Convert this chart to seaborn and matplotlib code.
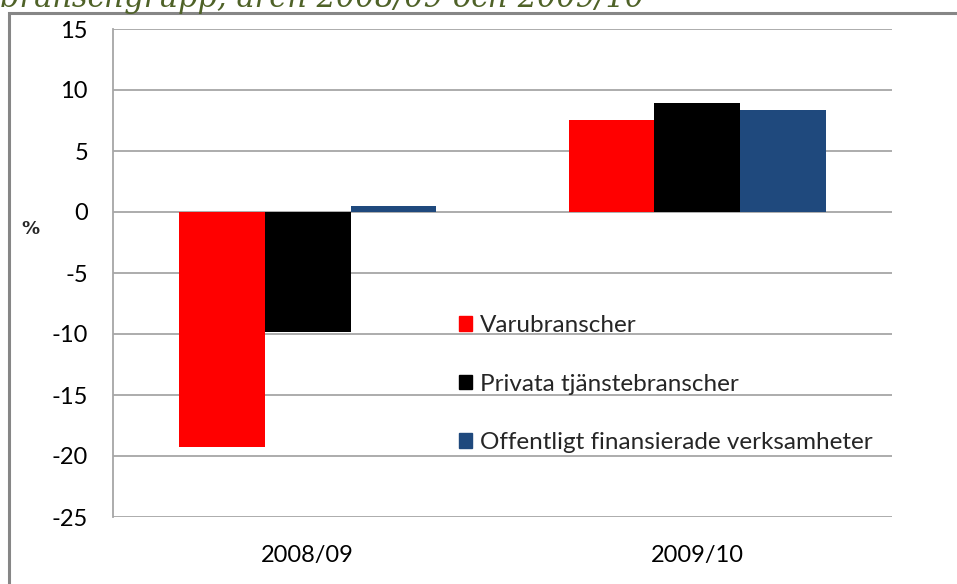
import matplotlib
matplotlib.use("Agg")
import matplotlib.pyplot as plt
import matplotlib.patches as mpatches
import seaborn as sns
import pandas as pd

# values (%)
years = ["2008/09", "2009/10"]
series = ["Varubranscher", "Privata tjänstebranscher",
          "Offentligt finansierade verksamheter"]
varu = [-19.3, 7.5]
privata = [-9.8, 8.9]
offentligt = [0.5, 8.4]
colors = ["#FF0000", "#000000", "#1F497D"]

df = pd.DataFrame({
    "År": years * 3,
    "Bransch": [series[0]] * 2 + [series[1]] * 2 + [series[2]] * 2,
    "Förändring": varu + privata + offentligt,
})

sns.set_theme(style="white")
plt.rcParams["font.family"] = ["Lato", "DejaVu Sans"]
plt.rcParams["axes.unicode_minus"] = False

W, H = 957, 584
fig = plt.figure(figsize=(W / 100, H / 100), dpi=100)
ax = fig.add_axes([113 / W, 1 - 517 / H, (892 - 113) / W, (517 - 29) / H])

sns.barplot(data=df, x="År", y="Förändring", hue="Bransch",
            palette=colors, width=0.66, ax=ax, legend=False,
            saturation=1, edgecolor="none")

ax.set_ylim(-25, 15)
ax.set_yticks(range(-25, 16, 5))
ax.set_xlim(-0.5, 1.5)
ax.yaxis.grid(True, color="#A6A6A6", lw=1.3)
ax.set_axisbelow(True)
for s in ["top", "right", "bottom"]:
    ax.spines[s].set_visible(False)
ax.spines["left"].set_color("#A6A6A6")
ax.spines["left"].set_linewidth(1.3)
ax.tick_params(axis="y", labelsize=17, colors="#000000", length=0, pad=18)
ax.tick_params(axis="x", labelsize=17, colors="#000000", length=0, pad=20)
ax.set_xlabel("")
ax.set_ylabel("")

fig.text(30 / W, 1 - 229 / H, "%", fontsize=13, fontweight="bold",
         family=["DejaVu Sans"], ha="center", va="center")

# legend
handles = [mpatches.Patch(color=c, label=l) for c, l in zip(colors, series)]
ax.legend(handles=handles, loc="upper left",
          bbox_to_anchor=((459 - 113) / (892 - 113), (517 - 315) / (517 - 29)),
          frameon=False, fontsize=17.5, handlelength=0.55, handleheight=0.55,
          handletextpad=0.33, labelspacing=1.55, borderaxespad=0,
          borderpad=0)

# outer border of the chart object
fig.patches.append(mpatches.Rectangle((9 / W, -0.1), 1.1, 1 - 13 / H + 0.1,
                                      transform=fig.transFigure, fill=False,
                                      edgecolor="#868686", lw=2.2))

# cut-off title above
fig.text(0.0, 1 - 7 / H, "branschgrupp, åren 2008/09 och 2009/10",
         fontsize=22, style="italic", color="#4F6228",
         family=["DejaVu Serif"], va="baseline")

fig.savefig("out.png", dpi=100)
